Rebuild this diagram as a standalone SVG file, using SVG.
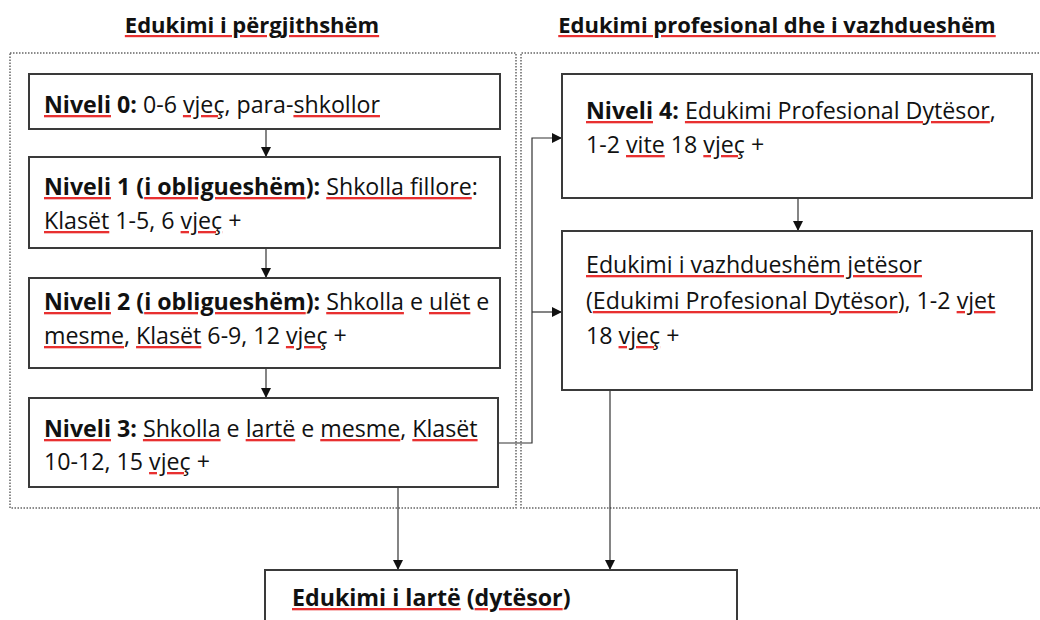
<svg xmlns="http://www.w3.org/2000/svg" width="1040" height="620" viewBox="0 0 1040 620">
<style>
.t{font-family:"Open Sans","Noto Sans","Liberation Sans",sans-serif;font-size:23.2px;fill:#111}
.b{font-weight:bold}
.h{font-family:"Open Sans","Noto Sans","Liberation Sans",sans-serif;font-size:22px;font-weight:bold;fill:#111}
.u{text-decoration:underline;fill:#e83030}
.k{fill:#111}
.box{fill:#fff;stroke:#3a3a3a;stroke-width:2}
.grp{fill:none;stroke:#666;stroke-width:1.5;stroke-dasharray:1.5 1.5}
.c{fill:none;stroke:#333;stroke-width:1.2}
</style>
<defs>
<marker id="ah" viewBox="0 0 10 10" refX="10" refY="5" markerWidth="10" markerHeight="10" markerUnits="userSpaceOnUse" orient="auto">
<path d="M0,0 L10,5 L0,10 z" fill="#111"/>
</marker>
</defs>
<rect width="1040" height="620" fill="#fff"/>
<g id="group-left">
<rect class="grp" x="10" y="53" width="506" height="455"/>
<text class="h" x="252" y="33" text-anchor="middle"><tspan class="u"><tspan class="k">Edukimi i përgjithshëm</tspan></tspan></text>
</g>
<g id="group-right">
<path class="grp" d="M1042,53 H521 V508 H1042"/>
<text class="h" x="777" y="33" text-anchor="middle"><tspan class="u"><tspan class="k">Edukimi profesional dhe i vazhdueshëm</tspan></tspan></text>
</g>
<g id="connectors">
<path class="c" d="M266,129 V157" marker-end="url(#ah)"/>
<path class="c" d="M266,248 V278" marker-end="url(#ah)"/>
<path class="c" d="M266,368 V398" marker-end="url(#ah)"/>
<path class="c" d="M498,443 H532 V138 H562" marker-end="url(#ah)"/>
<path class="c" d="M532,312 H562" marker-end="url(#ah)"/>
<path class="c" d="M798,198 V231" marker-end="url(#ah)"/>
<path class="c" d="M398,487 V570" marker-end="url(#ah)"/>
<path class="c" d="M610,390 V570" marker-end="url(#ah)"/>
</g>
<g id="n0">
<rect class="box" x="29" y="74" width="471" height="55"/>
<text class="t" x="44" y="113"><tspan class="b u"><tspan class="k">Niveli</tspan></tspan><tspan class="b"> 0:</tspan> 0-6 <tspan class="u"><tspan class="k">vjeç</tspan></tspan>, para-<tspan class="u"><tspan class="k">shkollor</tspan></tspan></text>
</g>
<g id="n1">
<rect class="box" x="29" y="157" width="471" height="91"/>
<text class="t" x="44" y="195"><tspan class="b u"><tspan class="k">Niveli</tspan></tspan><tspan class="b"> 1 (</tspan><tspan class="b u"><tspan class="k">i obligueshëm</tspan></tspan><tspan class="b">):</tspan> <tspan class="u"><tspan class="k">Shkolla fillore</tspan></tspan>:</text>
<text class="t" x="44" y="229"><tspan class="u"><tspan class="k">Klasët</tspan></tspan> 1-5, 6 <tspan class="u"><tspan class="k">vjeç</tspan></tspan> +</text>
</g>
<g id="n2">
<rect class="box" x="29" y="278" width="471" height="90"/>
<text class="t" x="44" y="310"><tspan class="b u"><tspan class="k">Niveli</tspan></tspan><tspan class="b"> 2 (</tspan><tspan class="b u"><tspan class="k">i obligueshëm</tspan></tspan><tspan class="b">):</tspan> <tspan class="u"><tspan class="k">Shkolla</tspan></tspan> e <tspan class="u"><tspan class="k">ulët</tspan></tspan> e</text>
<text class="t" x="44" y="344"><tspan class="u"><tspan class="k">mesme</tspan></tspan>, <tspan class="u"><tspan class="k">Klasët</tspan></tspan> 6-9, 12 <tspan class="u"><tspan class="k">vjeç</tspan></tspan> +</text>
</g>
<g id="n3">
<rect class="box" x="29" y="398" width="469" height="89"/>
<text class="t" x="44" y="437"><tspan class="b u"><tspan class="k">Niveli</tspan></tspan><tspan class="b"> 3:</tspan> <tspan class="u"><tspan class="k">Shkolla</tspan></tspan> e <tspan class="u"><tspan class="k">lartë</tspan></tspan> e <tspan class="u"><tspan class="k">mesme</tspan></tspan>, <tspan class="u"><tspan class="k">Klasët</tspan></tspan></text>
<text class="t" x="44" y="470">10-12, 15 <tspan class="u"><tspan class="k">vjeç</tspan></tspan> +</text>
</g>
<g id="n4">
<rect class="box" x="562" y="74" width="470" height="124"/>
<text class="t" x="586" y="119"><tspan class="b u"><tspan class="k">Niveli</tspan></tspan><tspan class="b"> 4:</tspan> <tspan class="u"><tspan class="k">Edukimi Profesional Dytësor</tspan></tspan>,</text>
<text class="t" x="586" y="153">1-2 <tspan class="u"><tspan class="k">vite</tspan></tspan> 18 <tspan class="u"><tspan class="k">vjeç</tspan></tspan> +</text>
</g>
<g id="n5">
<rect class="box" x="562" y="231" width="470" height="159"/>
<text class="t" x="586" y="273"><tspan class="u"><tspan class="k">Edukimi i vazhdueshëm jetësor</tspan></tspan></text>
<text class="t" x="586" y="309">(<tspan class="u"><tspan class="k">Edukimi Profesional Dytësor</tspan></tspan>), 1-2 <tspan class="u"><tspan class="k">vjet</tspan></tspan></text>
<text class="t" x="586" y="344">18 <tspan class="u"><tspan class="k">vjeç</tspan></tspan> +</text>
</g>
<g id="n6">
<rect class="box" x="265" y="570" width="472" height="70"/>
<text class="t b" x="292" y="606"><tspan class="u"><tspan class="k">Edukimi i lartë</tspan></tspan> (<tspan class="u"><tspan class="k">dytësor</tspan></tspan>)</text>
</g>
</svg>
